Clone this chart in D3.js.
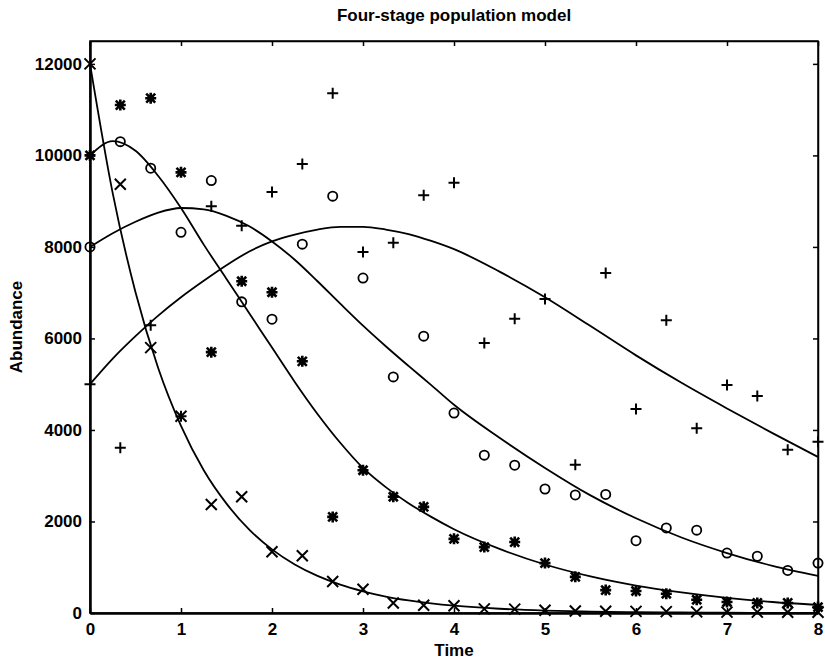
<!DOCTYPE html>
<html>
<head>
<meta charset="utf-8">
<script src="https://cdn.jsdelivr.net/npm/d3@7"></script>
<style>
  html, body { margin: 0; padding: 0; background: #fff; }
  svg { display: block; }
  text { font-family: "Liberation Sans", Arial, Helvetica, sans-serif; fill: #000; }
</style>
</head>
<body>
<svg id="chart" width="825" height="661"></svg>
<script>
// ---------- data ----------
const chartTitle = "Four-stage population model";
const xLabel = "Time";
const yLabel = "Abundance";
const xTicks = [0, 1, 2, 3, 4, 5, 6, 7, 8];
const yTicks = [0, 2000, 4000, 6000, 8000, 10000, 12000];

// observation times
const sampleTimes = [0, 0.333, 0.667, 1, 1.333, 1.667, 2, 2.333, 2.667, 3, 3.333, 3.667,
  4, 4.333, 4.667, 5, 5.333, 5.667, 6, 6.333, 6.667, 7, 7.333, 7.667, 8];

// observed abundances (markers)
const stage1Obs = [12000, 9370, 5800, 4300, 2370, 2540, 1340, 1250, 690, 520, 220, 170,
  160, 90, 85, 60, 45, 40, 35, 30, 25, 20, 20, 15, 15];           // x
const stage2Obs = [10000, 11100, 11250, 9630, 5700, 7250, 7010, 5500, 2100, 3120, 2540, 2320,
  1620, 1440, 1550, 1090, 790, 500, 480, 420, 290, 240, 220, 220, 130]; // *
const stage3Obs = [8000, 10300, 9720, 8320, 9450, 6800, 6420, 8060, 9110, 7320, 5160, 6050,
  4370, 3450, 3230, 2710, 2580, 2590, 1580, 1860, 1810, 1310, 1240, 930, 1090]; // o
const stage4Obs = [5000, 3610, 6290, 4300, 8890, 8460, 9200, 9810, 11360, 7890, 8090, 9130,
  9400, 5900, 6430, 6860, 3240, 7430, 4460, 6400, 4040, 4980, 4740, 3570, 3740]; // +

// model curves
const modelTimes = [0, 0.25, 0.5, 0.75, 1, 1.25, 1.5, 1.75, 2, 2.25, 2.5, 2.75, 3, 3.25,
  3.5, 3.75, 4, 4.5, 5, 5.5, 6, 6.5, 7, 7.5, 8];
const stage1Model = [12000, 9170, 7010, 5350, 4090, 3120, 2390, 1820, 1390, 1060, 810, 620,
  475, 360, 275, 210, 160, 93, 54, 32, 18, 11, 6, 4, 2];
const stage2Model = [10000, 10310, 10100, 9550, 8850, 8050, 7300, 6550, 5800, 5050, 4350, 3720,
  3170, 2750, 2400, 2100, 1830, 1400, 1060, 800, 600, 450, 330, 240, 175];
const stage3Model = [8000, 8300, 8550, 8750, 8850, 8820, 8680, 8450, 8120, 7720, 7250, 6760,
  6280, 5830, 5400, 4980, 4550, 3830, 3170, 2570, 2070, 1650, 1310, 1030, 810];
const stage4Model = [5000, 5560, 6050, 6500, 6900, 7260, 7600, 7900, 8120, 8270, 8380, 8440,
  8440, 8380, 8280, 8130, 7950, 7460, 6900, 6270, 5630, 5030, 4470, 3930, 3410];

const series = [
  { obs: stage1Obs, model: stage1Model, marker: "x" },
  { obs: stage2Obs, model: stage2Model, marker: "star" },
  { obs: stage3Obs, model: stage3Model, marker: "o" },
  { obs: stage4Obs, model: stage4Model, marker: "plus" }
];

// ---------- layout ----------
const plotLeft = 90, plotRight = 818, plotTop = 41, plotBottom = 613;
const svg = d3.select("#chart");

const x = d3.scaleLinear().domain([0, 8]).range([plotLeft, plotRight]);
const y = d3.scaleLinear().domain([0, 12500]).range([plotBottom, plotTop]);

// frame
svg.append("rect")
  .attr("x", plotLeft).attr("y", plotTop)
  .attr("width", plotRight - plotLeft).attr("height", plotBottom - plotTop)
  .attr("fill", "none").attr("stroke", "#000").attr("stroke-width", 1.5);

const tickLen = 5;
// bottom axis (ticks inward)
const gx = svg.append("g").attr("transform", `translate(0,${plotBottom})`)
  .call(d3.axisBottom(x).tickValues(xTicks).tickSizeInner(-tickLen).tickSizeOuter(0).tickPadding(10)
    .tickFormat(d3.format("d")));
gx.select(".domain").attr("stroke-width", 2.5);
gx.selectAll(".tick line").attr("stroke-width", 1.5);
gx.selectAll(".tick text").style("font-size", "17px").style("font-weight", "bold");

// top axis ticks
const gxt = svg.append("g").attr("transform", `translate(0,${plotTop})`)
  .call(d3.axisTop(x).tickValues(xTicks).tickSizeInner(-tickLen).tickSizeOuter(0).tickFormat(""));
gxt.select(".domain").attr("stroke-width", 1.5);
gxt.selectAll(".tick line").attr("stroke-width", 1.5);

// left axis
const gy = svg.append("g").attr("transform", `translate(${plotLeft},0)`)
  .call(d3.axisLeft(y).tickValues(yTicks).tickSizeInner(-tickLen).tickSizeOuter(0).tickPadding(8)
    .tickFormat(d3.format("d")));
gy.select(".domain").attr("stroke-width", 2.5);
gy.selectAll(".tick line").attr("stroke-width", 1.5);
gy.selectAll(".tick text").style("font-size", "17px").style("font-weight", "bold");

// right axis ticks
const gyr = svg.append("g").attr("transform", `translate(${plotRight},0)`)
  .call(d3.axisRight(y).tickValues(yTicks).tickSizeInner(-tickLen).tickSizeOuter(0).tickFormat(""));
gyr.select(".domain").attr("stroke-width", 1.5);
gyr.selectAll(".tick line").attr("stroke-width", 1.5);

// model curves
const line = d3.line()
  .x((d, i) => x(modelTimes[i]))
  .y(d => y(d))
  .curve(d3.curveMonotoneX);

series.forEach(s => {
  svg.append("path")
    .attr("d", line(s.model))
    .attr("fill", "none")
    .attr("stroke", "#000")
    .attr("stroke-width", 1.8);
});

// markers
const h = 5.5;
function drawMarker(g, type, cx, cy) {
  if (type === "x") {
    g.append("path").attr("d", `M${cx - h},${cy - h}L${cx + h},${cy + h}M${cx - h},${cy + h}L${cx + h},${cy - h}`)
      .attr("stroke", "#000").attr("stroke-width", 2).attr("fill", "none");
  } else if (type === "plus") {
    g.append("path").attr("d", `M${cx - h},${cy}L${cx + h},${cy}M${cx},${cy - h}L${cx},${cy + h}`)
      .attr("stroke", "#000").attr("stroke-width", 2).attr("fill", "none");
  } else if (type === "o") {
    g.append("circle").attr("cx", cx).attr("cy", cy).attr("r", 4.6)
      .attr("stroke", "#000").attr("stroke-width", 1.8).attr("fill", "none");
  } else if (type === "star") {
    const k = 4.5;
    g.append("path").attr("d",
      `M${cx - k},${cy - k}L${cx + k},${cy + k}M${cx - k},${cy + k}L${cx + k},${cy - k}` +
      `M${cx - h},${cy}L${cx + h},${cy}M${cx},${cy - h}L${cx},${cy + h}`)
      .attr("stroke", "#000").attr("stroke-width", 2.6).attr("fill", "none");
    g.append("rect").attr("x", cx - 3).attr("y", cy - 3).attr("width", 6).attr("height", 6).attr("fill", "#000");
  }
}

series.forEach(s => {
  const g = svg.append("g");
  s.obs.forEach((v, i) => drawMarker(g, s.marker, x(sampleTimes[i]), y(v)));
});

// title and labels
svg.append("text")
  .attr("x", (plotLeft + plotRight) / 2).attr("y", 21)
  .attr("text-anchor", "middle")
  .style("font-size", "17px").style("font-weight", "bold")
  .text(chartTitle);

svg.append("text")
  .attr("x", (plotLeft + plotRight) / 2).attr("y", 656)
  .attr("text-anchor", "middle")
  .style("font-size", "17px").style("font-weight", "bold")
  .text(xLabel);

svg.append("text")
  .attr("transform", `translate(22,${(plotTop + plotBottom) / 2}) rotate(-90)`)
  .attr("text-anchor", "middle")
  .style("font-size", "17px").style("font-weight", "bold")
  .text(yLabel);
</script>
</body>
</html>
